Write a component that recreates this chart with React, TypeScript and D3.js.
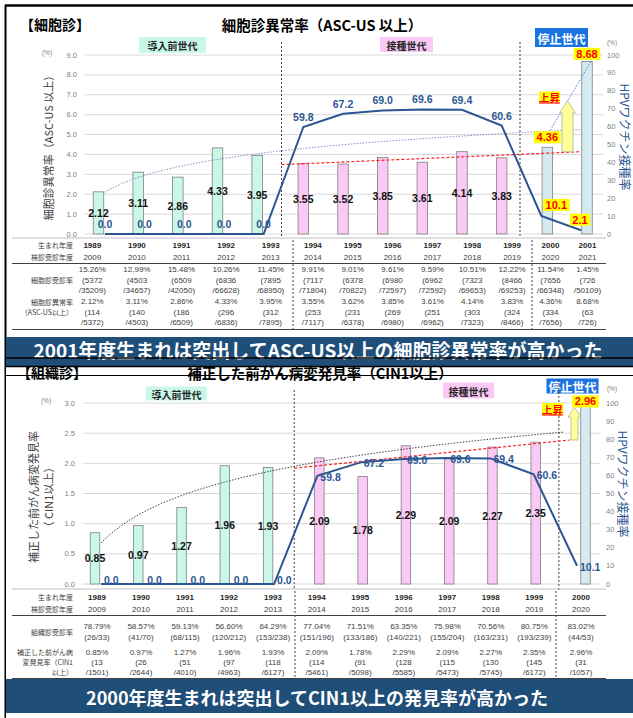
import React from "react";
import * as d3 from "d3";

// ---------- DATA ----------
const topYears = ["1989","1990","1991","1992","1993","1994","1995","1996","1997","1998","1999","2000","2001"];
const topExamYears = ["2009","2010","2011","2012","2013","2014","2015","2016","2017","2018","2019","2020","2021"];
const topGroups = [0,0,0,0,0,1,1,1,1,1,1,2,2];
const topAbnormal = [2.12,3.11,2.86,4.33,3.95,3.55,3.52,3.85,3.61,4.14,3.83,4.36,8.68];
const topVaccine = [0.0,0.0,0.0,0.0,0.0,59.8,67.2,69.0,69.6,69.4,60.6,10.1,2.1];
const topExamRate = ["15.26%","12.99%","15.48%","10.26%","11.45%","9.91%","9.01%","9.61%","9.59%","10.51%","12.22%","11.54%","1.45%"];
const topExamNum = ["(5372","(4503","(6509","(6836","(7895","(7117","(6378","(6980","(6962","(7323","(8466","(7656","(726"];
const topExamDen = ["/35209)","/34657)","/42050)","/66628)","/68950)","/71804)","/70822)","/72597)","/72592)","/69653)","/69253)","/66348)","/50109)"];
const topAbnRate = ["2.12%","3.11%","2.86%","4.33%","3.95%","3.55%","3.62%","3.85%","3.61%","4.14%","3.83%","4.36%","8.68%"];
const topAbnNum = ["(114","(140","(186","(296","(312","(253","(231","(269","(251","(303","(324","(334","(63"];
const topAbnDen = ["/5372)","/4503)","/6509)","/6836)","/7895)","/7117)","/6378)","/6980)","/6962)","/7323)","/8466)","/7656)","/726)"];

const botYears = ["1989","1990","1991","1992","1993","1994","1995","1996","1997","1998","1999","2000"];
const botExamYears = ["2009","2010","2011","2012","2013","2014","2015","2016","2017","2018","2019","2020"];
const botGroups = [0,0,0,0,0,1,1,1,1,1,1,2];
const botCin = [0.85,0.97,1.27,1.96,1.93,2.09,1.78,2.29,2.09,2.27,2.35,2.96];
const botVaccine = [0.0,0.0,0.0,0.0,0.0,59.8,67.2,69.0,69.6,69.4,60.6,10.1];
const botExamRate = ["78.79%","58.57%","59.13%","56.60%","64.29%","77.04%","71.51%","63.35%","75.98%","70.56%","80.75%","83.02%"];
const botExamFrac = ["(26/33)","(41/70)","(68/115)","(120/212)","(153/238)","(151/196)","(133/186)","(140/221)","(155/204)","(163/231)","(193/239)","(44/53)"];
const botCinRate = ["0.85%","0.97%","1.27%","1.96%","1.93%","2.09%","1.78%","2.29%","2.09%","2.27%","2.35%","2.96%"];
const botCinNum = ["(13","(26","(51","(97","(118","(114","(91","(128","(115","(130","(145","(31"];
const botCinDen = ["/1501)","/2644)","/4010)","/4963)","/6127)","/5461)","/5098)","/5585)","/5473)","/5745)","/6172)","/1057)"];

const groupNames = ["導入前世代", "接種世代", "停止世代"];
const topLeftTicks = [0,1,2,3,4,5,6,7,8,9];
const botLeftTicks = [0,0.5,1,1.5,2,2.5,3];
const rightTicks = [0,10,20,30,40,50,60,70,80,90,100];

// ---------- STYLE ----------
const FONT = "'Liberation Sans', Arial, sans-serif";
const JFONT = "'Noto Sans CJK JP', 'Liberation Sans', sans-serif";
const BAR_FILL = ["#c9f7e8", "#fbc9f6", "#d6eaf1"];
const BOX_FILL = ["#c9f7e8", "#fbc9f6", "#1b73e2"];
const BLUE = "#2c5691";
const NAVY = "#1f4e79";

function logFit(v: number[]) {
  const xs = v.map((_, i) => Math.log(i + 1));
  const mx = d3.mean(xs)!, my = d3.mean(v)!;
  let sxy = 0, sxx = 0;
  xs.forEach((x, i) => { sxy += (x - mx) * (v[i] - my); sxx += (x - mx) ** 2; });
  const b = sxy / sxx;
  return { a: my - b * mx, b };
}
function linFit(v: number[]) {
  const xs = v.map((_, i) => i + 1);
  const mx = d3.mean(xs)!, my = d3.mean(v)!;
  let sxy = 0, sxx = 0;
  xs.forEach((x, i) => { sxy += (x - mx) * (v[i] - my); sxx += (x - mx) ** 2; });
  const m = sxy / sxx;
  return { m, c: my - m * mx };
}
function groupCenters(groups: number[], edges: number[]) {
  const counts = [0, 0, 0];
  groups.forEach((g) => counts[g]++);
  const seen = [0, 0, 0];
  return groups.map((g) => {
    const j = seen[g]++;
    const w = (edges[g + 1] - edges[g]) / counts[g];
    return edges[g] + (j + 0.5) * w;
  });
}

function YellowLabel({ x, y, text, size = 11 }: { x: number; y: number; text: string; size?: number }) {
  const w = text.length * size * 0.56 + 2;
  return (
    <g>
      <rect x={x - w / 2} y={y - size / 2 - 0.5} width={w} height={size + 1} fill="#ffff00" />
      <text x={x} y={y} textAnchor="middle" dominantBaseline="central" fontFamily={FONT} fontWeight="bold" fontSize={size} fill="#ff0000">{text}</text>
    </g>
  );
}

function Arrow({ x, y0, y1, bodyW, headW, headH }: { x: number; y0: number; y1: number; bodyW: number; headW: number; headH: number }) {
  const p = [
    [x - bodyW / 2, y0], [x - bodyW / 2, y1 + headH], [x - headW / 2, y1 + headH], [x, y1],
    [x + headW / 2, y1 + headH], [x + bodyW / 2, y1 + headH], [x + bodyW / 2, y0],
  ];
  return <path d={"M" + p.map((q) => q.join(",")).join("L") + "Z"} fill="#ffff99" stroke="#b0b0a0" strokeWidth={0.8} />;
}

function PeriodBox({ cx, cy, w, h, g, size }: { cx: number; cy: number; w: number; h: number; g: number; size: number }) {
  return (
    <g>
      <rect x={cx - w / 2} y={cy - h / 2} width={w} height={h} fill={BOX_FILL[g]} />
      <text x={cx} y={cy + 0.5} textAnchor="middle" dominantBaseline="central" fontFamily={JFONT} fontWeight="bold" fontSize={size} fill={g === 2 ? "#ffffff" : "#262626"}>{groupNames[g]}</text>
    </g>
  );
}

function TopPanel() {
  const x = d3.scalePoint<string>().domain(topYears).range([105, 581]);
  const step = x.step();
  const yL = d3.scaleLinear().domain([0, 9]).range([234, 55]);
  const yR = d3.scaleLinear().domain([0, 100]).range([234, 55]);
  const barOff = [-6.5, 0, 6];
  const barW = 10.5;
  const bx = (i: number) => x(topYears[i])! + barOff[topGroups[i]];
  const sep1 = (x("1993")! + x("1994")!) / 2 - 2;
  const sep2 = (x("1999")! + x("2000")!) / 2 - 1.5;

  const lf = logFit(topAbnormal.filter((_, i) => topGroups[i] === 0));
  const logPts = d3.range(1, 13.001, 0.1).map((i) => [x(topYears[0])! + (i - 1) * step, yL(lf.a + lf.b * Math.log(i))] as [number, number]);
  const lin = linFit(topAbnormal.filter((_, i) => topGroups[i] === 1));
  const x94 = x("1994")!;
  const k0 = 1 + (sep1 - x94) / step, k1 = 1 + (580 - x94) / step;
  const linPts = [k0, k1].map((k) => [x94 + (k - 1) * step, yL(lin.c + lin.m * k)] as [number, number]);

  const line = d3.line<number>().x((_, i) => x(topYears[i])!).y((d) => yR(d));
  const cols = groupCenters(topGroups, [70, 293, 532, 606]);
  const ts = { fontFamily: FONT, fontSize: 8, fill: "#404040", textAnchor: "middle" as const, dominantBaseline: "central" as const };
  const ls = { fontFamily: JFONT, fontSize: 7, fill: "#404040", textAnchor: "end" as const, dominantBaseline: "central" as const };

  return (
    <g>
      {/* titles */}
      <text x={20} y={24} dominantBaseline="central" fontFamily={JFONT} fontWeight="bold" fontSize={14} fill="#000">【細胞診】</text>
      <text x={322} y={24} textAnchor="middle" dominantBaseline="central" fontFamily={JFONT} fontWeight="bold" fontSize={14.5} fill="#000">細胞診異常率（ASC-US 以上）</text>

      {/* grid */}
      {topLeftTicks.map((t) => (
        <line key={t} x1={85} x2={603} y1={yL(t)} y2={yL(t)} stroke="#d9d9d9" strokeWidth={1} />
      ))}
      {topLeftTicks.map((t) => (
        <text key={"l" + t} x={77} y={yL(t)} textAnchor="end" dominantBaseline="central" fontFamily={FONT} fontSize={7.5} fill="#7f7f7f">{d3.format(".1f")(t)}</text>
      ))}
      {rightTicks.map((t) => (
        <text key={"r" + t} x={607} y={yR(t)} dominantBaseline="central" fontFamily={FONT} fontSize={7.5} fill="#7f7f7f">{t}</text>
      ))}
      <text x={47} y={52} textAnchor="middle" dominantBaseline="central" fontFamily={FONT} fontSize={6.5} fill="#7f7f7f">(%)</text>
      <text x={612} y={42} textAnchor="middle" dominantBaseline="central" fontFamily={FONT} fontSize={6.5} fill="#7f7f7f">(%)</text>
      <text transform="translate(48,145) rotate(-90)" textAnchor="middle" dominantBaseline="central" fontFamily={JFONT} fontSize={11} fill="#404040">細胞診異常率（ASC-US 以上）</text>
      <text transform="translate(625,137) rotate(90)" textAnchor="middle" dominantBaseline="central" fontFamily={JFONT} fontSize={12} fill={BLUE}>HPVワクチン接種率</text>

      {/* period boxes */}
      <PeriodBox cx={172.5} cy={45} w={67} h={16} g={0} size={10} />
      <PeriodBox cx={406.5} cy={44.5} w={53} h={15} g={1} size={10} />
      <PeriodBox cx={561.5} cy={37.5} w={53} h={19} g={2} size={12} />

      {/* separators */}
      {[sep1, sep2].map((s, i) => (
        <line key={i} x1={s} x2={s} y1={42} y2={238} stroke="#404040" strokeWidth={1} strokeDasharray="2,2" />
      ))}

      {/* bars */}
      {topAbnormal.map((v, i) => (
        <rect key={i} x={bx(i) - barW / 2} y={yL(v)} width={barW} height={yL(0) - yL(v)} fill={BAR_FILL[topGroups[i]]} stroke="#7f7f7f" strokeWidth={0.8} />
      ))}

      {/* trend lines */}
      <path d={d3.line()(logPts)!} fill="none" stroke="#9b86c4" strokeWidth={1} strokeDasharray="1.5,1.5" />
      <path d={d3.line()(linPts)!} fill="none" stroke="#ff2020" strokeWidth={1.2} strokeDasharray="3,2" />
      <line x1={bx(11) + 3} y1={yL(topAbnormal[11]) - 17} x2={bx(12) + 4} y2={yL(topAbnormal[12])} stroke="#4a7fd6" strokeWidth={1} strokeDasharray="1.5,1.5" />
      <Arrow x={567.5} y0={linPts[1][1]} y1={yL(6.7)} bodyW={11} headW={16} headH={12} />

      {/* vaccine line */}
      <path d={line(topVaccine)!} fill="none" stroke={BLUE} strokeWidth={2} />

      {/* bar labels */}
      {topAbnormal.map((v, i) =>
        topGroups[i] < 2 ? (
          <text key={i} x={bx(i)} y={yL(v / 2)} textAnchor="middle" dominantBaseline="central" fontFamily={FONT} fontWeight="bold" fontSize={10.5} fill="#111">{v.toFixed(2)}</text>
        ) : null
      )}
      <YellowLabel x={bx(11)} y={yL(topAbnormal[11]) - 10} text={topAbnormal[11].toFixed(2)} />
      <YellowLabel x={bx(12)} y={yL(topAbnormal[12]) - 7.5} text={topAbnormal[12].toFixed(2)} />

      {/* vaccine labels */}
      {topVaccine.map((v, i) =>
        topGroups[i] < 2 ? (
          <text key={i} x={x(topYears[i])!} y={yR(v) - 10} textAnchor="middle" dominantBaseline="central" fontFamily={FONT} fontWeight="bold" fontSize={10.5} fill={BLUE}>{v.toFixed(1)}</text>
        ) : null
      )}
      <YellowLabel x={x("2000")! + 15} y={yR(topVaccine[11]) - 11} text={topVaccine[11].toFixed(1)} />
      <YellowLabel x={x("2001")! - 1} y={yR(topVaccine[12]) - 10.5} text={topVaccine[12].toFixed(1)} />

      {/* 上昇 */}
      <rect x={539} y={91.5} width={21} height={11} fill="#ffff00" />
      <text x={549.5} y={97} textAnchor="middle" dominantBaseline="central" fontFamily={JFONT} fontWeight="bold" fontSize={10.5} fill="#ff0000" textDecoration="underline">上昇</text>

      {/* table */}
      <line x1={12} x2={606} y1={238} y2={238} stroke="#bfbfbf" strokeWidth={1} />
      {[293, 532].map((s) => (
        <line key={s} x1={s} x2={s} y1={240} y2={329} stroke="#404040" strokeWidth={1} strokeDasharray="2,2" />
      ))}
      <line x1={12} x2={606} y1={263.5} y2={263.5} stroke="#404040" strokeWidth={1} />
      <line x1={12} x2={606} y1={329.5} y2={329.5} stroke="#404040" strokeWidth={1} />
      <text {...ls} x={73} y={245}>生まれ年度</text>
      <text {...ls} x={73} y={257}>検診受診年度</text>
      <text {...ls} x={73} y={280}>細胞診受診率</text>
      <text {...ls} x={73} y={301.5}>細胞診異常率</text>
      <text {...ls} x={73} y={312}>（ASC-US以上）</text>
      {cols.map((cx, i) => (
        <g key={i}>
          <text {...ts} x={cx} y={245} fontWeight="bold" fill="#262626">{topYears[i]}</text>
          <text {...ts} x={cx} y={257}>{topExamYears[i]}</text>
          <text {...ts} x={cx} y={269.5}>{topExamRate[i]}</text>
          <text {...ts} x={cx} y={280}>{topExamNum[i]}</text>
          <text {...ts} x={cx} y={290.5}>{topExamDen[i]}</text>
          <text {...ts} x={cx} y={301.5}>{topAbnRate[i]}</text>
          <text {...ts} x={cx} y={312}>{topAbnNum[i]}</text>
          <text {...ts} x={cx} y={322.5}>{topAbnDen[i]}</text>
        </g>
      ))}
    </g>
  );
}

function BottomPanel() {
  const x = d3.scalePoint<string>().domain(botYears).range([101, 577]);
  const step = x.step();
  const yL = d3.scaleLinear().domain([0, 3]).range([584, 403]);
  const yR = d3.scaleLinear().domain([0, 100]).range([584, 403]);
  const barOff = [-6, 2, 8.5];
  const barW = 9.5;
  const bx = (i: number) => x(botYears[i])! + barOff[botGroups[i]];
  const sep1 = (x("1993")! + x("1994")!) / 2 - 1.5;
  const sep2 = (x("1999")! + x("2000")!) / 2 + 3.5;

  const lf = logFit(botCin.filter((_, i) => botGroups[i] === 0));
  const logPts = d3.range(1, 11.76, 0.1).map((i) => [x(botYears[0])! + (i - 1) * step, yL(lf.a + lf.b * Math.log(i))] as [number, number]);
  const lin = linFit(botCin.filter((_, i) => botGroups[i] === 1));
  const x94 = bx(5);
  const k0 = 1 + (sep1 - x94) / step, k1 = 1 + (570 - x94) / step;
  const linPts = [k0, k1].map((k) => [x94 + (k - 1) * step, yL(lin.c + lin.m * k)] as [number, number]);

  const line = d3.line<number>().x((_, i) => x(botYears[i])!).y((d) => yR(d));
  const cols = groupCenters(botGroups, [75, 295, 556, 606]);
  const ts = { fontFamily: FONT, fontSize: 8, fill: "#404040", textAnchor: "middle" as const, dominantBaseline: "central" as const };
  const ls = { fontFamily: JFONT, fontSize: 7, fill: "#404040", textAnchor: "end" as const, dominantBaseline: "central" as const };

  return (
    <g>
      {/* grid */}
      {botLeftTicks.map((t) => (
        <line key={t} x1={83} x2={600} y1={yL(t)} y2={yL(t)} stroke="#d9d9d9" strokeWidth={1} />
      ))}
      {botLeftTicks.map((t) => (
        <text key={"l" + t} x={75} y={yL(t)} textAnchor="end" dominantBaseline="central" fontFamily={FONT} fontSize={7.5} fill="#7f7f7f">{d3.format(".1f")(t)}</text>
      ))}
      {rightTicks.map((t) => (
        <text key={"r" + t} x={606} y={yR(t)} dominantBaseline="central" fontFamily={FONT} fontSize={7.5} fill="#7f7f7f">{t}</text>
      ))}
      <text x={46} y={400} textAnchor="middle" dominantBaseline="central" fontFamily={FONT} fontSize={6.5} fill="#7f7f7f">(%)</text>
      <text x={612} y={388} textAnchor="middle" dominantBaseline="central" fontFamily={FONT} fontSize={6.5} fill="#7f7f7f">(%)</text>
      <text transform="translate(33,497) rotate(-90)" textAnchor="middle" dominantBaseline="central" fontFamily={JFONT} fontSize={11} fill="#404040">補正した前がん病変発見率</text>
      <text transform="translate(48,497) rotate(-90)" textAnchor="middle" dominantBaseline="central" fontFamily={JFONT} fontSize={11} fill="#404040">（ CIN1以上）</text>
      <text transform="translate(623,484) rotate(90)" textAnchor="middle" dominantBaseline="central" fontFamily={JFONT} fontSize={12} fill={BLUE}>HPVワクチン接種率</text>

      {/* period boxes */}
      <PeriodBox cx={176.5} cy={393.5} w={61} h={14} g={0} size={10} />
      <PeriodBox cx={468.5} cy={390.5} w={51} h={16} g={1} size={10} />
      <PeriodBox cx={572.5} cy={386} w={52} h={15} g={2} size={12} />

      {/* separators */}
      <line x1={sep1} x2={sep1} y1={390} y2={590} stroke="#404040" strokeWidth={1} strokeDasharray="2,2" />
      <line x1={sep2} x2={sep2} y1={380} y2={590} stroke="#404040" strokeWidth={1} strokeDasharray="2,2" />

      {/* bars */}
      {botCin.map((v, i) => (
        <rect key={i} x={bx(i) - barW / 2} y={yL(v)} width={barW} height={yL(0) - yL(v)} fill={BAR_FILL[botGroups[i]]} stroke="#7f7f7f" strokeWidth={0.8} />
      ))}

      {/* trend lines */}
      <path d={d3.line()(logPts)!} fill="none" stroke="#404040" strokeWidth={1} strokeDasharray="1.5,1.5" />
      <path d={d3.line()(linPts)!} fill="none" stroke="#ff2020" strokeWidth={1.2} strokeDasharray="3,2" />
      <Arrow x={574.5} y0={linPts[1][1]} y1={yL(2.93)} bodyW={7} headW={13} headH={10} />

      {/* vaccine line */}
      <path d={line(botVaccine)!} fill="none" stroke={BLUE} strokeWidth={2} />

      {/* bar labels */}
      {botCin.map((v, i) =>
        botGroups[i] < 2 ? (
          <text key={i} x={bx(i)} y={yL(v / 2)} textAnchor="middle" dominantBaseline="central" fontFamily={FONT} fontWeight="bold" fontSize={10.5} fill="#111">{v.toFixed(2)}</text>
        ) : null
      )}
      <YellowLabel x={bx(11)} y={yL(botCin[11]) - 4} text={botCin[11].toFixed(2)} />

      {/* vaccine labels */}
      {botVaccine.map((v, i) => (
        <text key={i} x={x(botYears[i])! + 3} y={yR(v) - (v === 0 ? 4 : -1)} dominantBaseline="central" fontFamily={FONT} fontWeight="bold" fontSize={10.5} fill={BLUE}>{v.toFixed(1)}</text>
      ))}

      {/* 上昇 */}
      <rect x={542} y={403} width={21} height={12} fill="#ffff00" />
      <text x={552.5} y={409} textAnchor="middle" dominantBaseline="central" fontFamily={JFONT} fontWeight="bold" fontSize={10.5} fill="#ff0000" textDecoration="underline">上昇</text>

      {/* table */}
      <line x1={12} x2={606} y1={589} y2={589} stroke="#bfbfbf" strokeWidth={1} />
      {[295, 556].map((s) => (
        <line key={s} x1={s} x2={s} y1={591} y2={678} stroke="#404040" strokeWidth={1} strokeDasharray="2,2" />
      ))}
      <line x1={12} x2={606} y1={615.5} y2={615.5} stroke="#404040" strokeWidth={1} />
      <line x1={12} x2={606} y1={678.5} y2={678.5} stroke="#404040" strokeWidth={1} />
      <text {...ls} x={73} y={597}>生まれ年度</text>
      <text {...ls} x={73} y={609}>検診受診年度</text>
      <text {...ls} x={73} y={631.5}>組織診受診率</text>
      <text {...ls} x={73} y={652}>補正した前がん病</text>
      <text {...ls} x={73} y={662}>変発見率（CIN1</text>
      <text {...ls} x={73} y={672}>以上）</text>
      {cols.map((cx, i) => (
        <g key={i}>
          <text {...ts} x={cx} y={597} fontWeight="bold" fill="#262626">{botYears[i]}</text>
          <text {...ts} x={cx} y={609}>{botExamYears[i]}</text>
          <text {...ts} x={cx} y={626}>{botExamRate[i]}</text>
          <text {...ts} x={cx} y={637}>{botExamFrac[i]}</text>
          <text {...ts} x={cx} y={652}>{botCinRate[i]}</text>
          <text {...ts} x={cx} y={662}>{botCinNum[i]}</text>
          <text {...ts} x={cx} y={672}>{botCinDen[i]}</text>
        </g>
      ))}
    </g>
  );
}

export default function App() {
  return (
    <svg width={633} height={718} style={{ position: "absolute", left: 0, top: 0, background: "#fff" }}>
      <rect x={0} y={0} width={633} height={718} fill="#ffffff" />
      {/* panel 1 border */}
      <line x1={5} x2={633} y1={5.5} y2={5.5} stroke="#000" strokeWidth={2.5} />
      <line x1={5.5} x2={5.5} y1={5} y2={718} stroke="#000" strokeWidth={2} />
      <TopPanel />
      {/* banner 1 */}
      <rect x={6} y={337} width={627} height={29} fill={NAVY} />
      <text x={318} y={349} textAnchor="middle" dominantBaseline="central" fontFamily={JFONT} fontWeight="bold" fontSize={19} fill="#ffffff">2001年度生まれは突出してASC-US以上の細胞診異常率が高かった</text>
      <line x1={5} x2={633} y1={358} y2={358} stroke="#000" strokeWidth={1.5} />
      {/* panel 2 */}
      <rect x={6} y={366} width={627} height={352} fill="#ffffff" />
      <line x1={5} x2={633} y1={366.5} y2={366.5} stroke="#000" strokeWidth={1.5} />
      <text x={17} y={372} dominantBaseline="central" fontFamily={JFONT} fontWeight="bold" fontSize={14} fill="#000">【組織診】</text>
      <text x={320} y={372} textAnchor="middle" dominantBaseline="central" fontFamily={JFONT} fontWeight="bold" fontSize={14.5} fill="#000">補正した前がん病変発見率（CIN1以上）</text>
      <line x1={5} x2={633} y1={375.5} y2={375.5} stroke="#000" strokeWidth={1.2} />
      <BottomPanel />
      {/* banner 2 */}
      <rect x={6} y={679} width={627} height={34} fill={NAVY} />
      <text x={317} y={697} textAnchor="middle" dominantBaseline="central" fontFamily={JFONT} fontWeight="bold" fontSize={18} fill="#ffffff">2000年度生まれは突出してCIN1以上の発見率が高かった</text>
    </svg>
  );
}
